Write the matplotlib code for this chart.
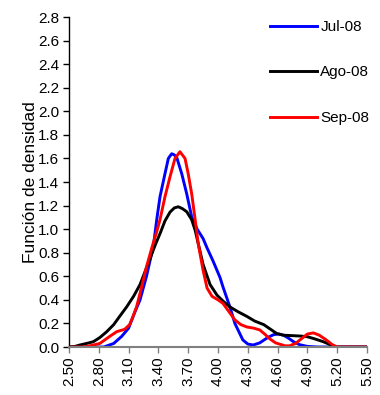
import numpy as np
import matplotlib
matplotlib.use("Agg")
import matplotlib.pyplot as plt

plt.rcParams['font.family'] = ['Liberation Sans', 'DejaVu Sans']

# density curves
jul_x = [2.50, 2.85, 2.95, 3.03, 3.10, 3.16, 3.215, 3.28, 3.35, 3.383, 3.416, 3.466, 3.50,
         3.534, 3.56, 3.584, 3.635, 3.685, 3.735, 3.79, 3.85, 3.89, 3.95, 4.02, 4.05, 4.12,
         4.17, 4.25, 4.30, 4.355, 4.42, 4.50, 4.56, 4.61, 4.66, 4.71, 4.76, 4.82, 4.90,
         5.00, 5.50]
jul_y = [0.0, 0.0, 0.03, 0.09, 0.16, 0.29, 0.40, 0.60, 0.86, 1.08, 1.275, 1.47, 1.60,
         1.64, 1.63, 1.61, 1.47, 1.30, 1.105, 1.00, 0.92, 0.84, 0.73, 0.59, 0.51, 0.34,
         0.20, 0.06, 0.025, 0.017, 0.035, 0.08, 0.105, 0.11, 0.10, 0.075, 0.045, 0.02, 0.005,
         0.0, 0.0]

ago_x = [2.50, 2.56, 2.61, 2.70, 2.745, 2.81, 2.88, 2.95, 3.01, 3.08, 3.15, 3.215, 3.27,
         3.32, 3.37, 3.42, 3.466, 3.517, 3.56, 3.60, 3.64, 3.685, 3.735, 3.77, 3.85, 3.92,
         3.99, 4.05, 4.12, 4.20, 4.29, 4.37, 4.46, 4.53, 4.59, 4.66, 4.76, 4.83, 4.90, 4.97,
         5.06, 5.13, 5.19, 5.50]
ago_y = [0.0, 0.005, 0.017, 0.035, 0.045, 0.08, 0.13, 0.19, 0.26, 0.34, 0.43, 0.53, 0.65,
         0.76, 0.87, 0.97, 1.07, 1.145, 1.18, 1.19, 1.175, 1.148, 1.08, 0.99, 0.70, 0.53,
         0.44, 0.39, 0.34, 0.30, 0.26, 0.22, 0.19, 0.15, 0.115, 0.10, 0.096, 0.093, 0.087,
         0.07, 0.045, 0.02, 0.0, 0.0]

sep_x = [2.50, 2.65, 2.71, 2.76, 2.81, 2.86, 2.91, 2.98, 3.06, 3.11, 3.14, 3.18, 3.215,
         3.28, 3.34, 3.38, 3.416, 3.466, 3.517, 3.567, 3.617, 3.668, 3.70, 3.735, 3.77,
         3.80, 3.85, 3.89, 3.94, 4.00, 4.05, 4.11, 4.17, 4.23, 4.29, 4.36, 4.42, 4.47, 4.52,
         4.58, 4.675, 4.72, 4.78, 4.84, 4.90, 4.96, 5.02, 5.09, 5.15, 5.20, 5.50]
sep_y = [0.0, 0.0, 0.01, 0.02, 0.03, 0.06, 0.09, 0.13, 0.15, 0.19, 0.25, 0.34, 0.455,
         0.68, 0.86, 0.97, 1.08, 1.275, 1.445, 1.60, 1.657, 1.60, 1.47, 1.30, 1.08,
         0.88, 0.65, 0.50, 0.43, 0.40, 0.37, 0.30, 0.23, 0.19, 0.17, 0.16, 0.145, 0.11, 0.07,
         0.035, 0.01, 0.01, 0.03, 0.07, 0.11, 0.12, 0.10, 0.06, 0.02, 0.0, 0.0]

labels = ['Jul-08', 'Ago-08', 'Sep-08']
colors = ['#0000FF', '#000000', '#FF0000']

x_ticks = np.arange(2.5, 5.51, 0.3)
y_ticks = np.arange(0, 2.81, 0.2)

fig = plt.figure(figsize=(3.8, 3.95), dpi=100)
ax = fig.add_axes([0.1816, 0.1215, 0.7842, 0.8354])

for xs, ys, lab, c in zip([jul_x, ago_x, sep_x], [jul_y, ago_y, sep_y], labels, colors):
    ax.plot(xs, ys, color=c, lw=2.1, label=lab)

ax.set_xlim(2.5, 5.5)
ax.set_ylim(0, 2.8)
ax.set_xticks(x_ticks)
ax.set_xticklabels(['%.2f' % v for v in x_ticks], rotation=90)
ax.set_yticks(y_ticks)
ax.set_yticklabels(['%.1f' % v for v in y_ticks])
ax.tick_params(labelsize=11, direction='out', length=4, width=1, pad=3)
ax.tick_params(axis='x', colors='#808080', labelcolor='black')

for s in ['top', 'right']:
    ax.spines[s].set_visible(False)
ax.spines['bottom'].set_color('#808080')
ax.spines['bottom'].set_linewidth(1.5)
ax.spines['left'].set_linewidth(1)

ax.set_ylabel('Función de densidad', fontsize=12.5, labelpad=0)

fig.legend(loc='upper left', bbox_to_anchor=(270 / 380, (395 - 20) / 395),
           frameon=False, borderpad=0, borderaxespad=0, handlelength=3.1,
           handletextpad=0.2, labelspacing=2.06, fontsize=11)

fig.savefig('out.png', dpi=100)
